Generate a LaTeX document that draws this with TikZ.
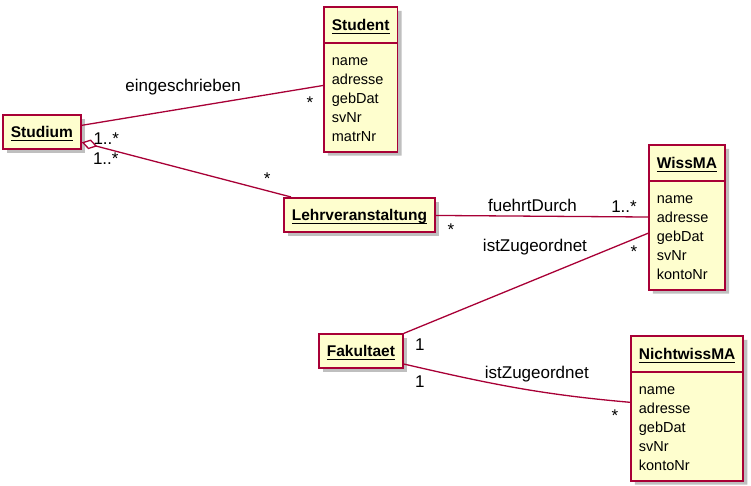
\documentclass[tikz,border=0pt]{standalone}
\usepackage{fontspec}
\setmainfont{Liberation Sans}
\usepackage{tikz}
\usetikzlibrary{shapes.multipart, arrows.meta, shadows}
\definecolor{umlred}{HTML}{A80036}
\definecolor{umlfill}{HTML}{FEFECE}
\newcommand{\clsname}[1]{%
    \setbox0\hbox{\fontsize{15.5}{18}\selectfont\bfseries #1}%
    \rlap{\rule[-3.2pt]{\wd0}{1.4pt}}\box0\rule[-7pt]{0pt}{26pt}%
}
\newcommand{\attrs}[1]{%
    \fontsize{14.5}{19}\selectfont\begin{tabular}{@{}l@{}}\rule{0pt}{17.5pt}#1\end{tabular}%
}
\tikzset{
    cls/.style={draw=umlred, fill=umlfill, line width=1.8pt, inner xsep=8pt, inner ysep=4pt,
        drop shadow={shadow xshift=4pt, shadow yshift=-4pt, opacity=0.25, fill=black}},
    clsattr/.style={cls, rectangle split, rectangle split parts=2,
        rectangle split part align={center,left}},
    assoc/.style={draw=umlred, line width=1.3pt},
    lbl/.style={font=\fontsize{17}{20}\selectfont, inner sep=0pt, anchor=base},
    aggr/.style={{Diamond[open,length=16pt,width=10pt]}-}
}

\begin{document}
\begin{tikzpicture}[x=1pt,y=1pt]
\useasboundingbox (0,0) rectangle (751,-486);
\node[cls, anchor=north west] (studium) at (2,-114) {\clsname{Studium}};
\node[clsattr, anchor=north west] (student) at (323,-6)
    {\clsname{Student} \nodepart{second} \attrs{name\\adresse\\gebDat\\svNr\\matrNr}};
\node[cls, anchor=north west] (lehr) at (283,-197) {\clsname{Lehrveranstaltung}};
\node[clsattr, anchor=north west] (wissma) at (648,-144)
    {\clsname{WissMA} \nodepart{second} \attrs{name\\adresse\\gebDat\\svNr\\kontoNr}};
\node[cls, anchor=north west] (fakultaet) at (318,-333) {\clsname{Fakultaet}};
\node[clsattr, anchor=north west] (nichtwissma) at (630,-335)
    {\clsname{NichtwissMA} \nodepart{second} \attrs{name\\adresse\\gebDat\\svNr\\kontoNr}};

\path[assoc]
(studium) edge node[lbl, pos=.42, yshift=17pt] {eingeschrieben}
    node[lbl, at end, xshift=-13pt, yshift=-22.5pt] {*} (student)
(studium) edge[aggr] node[lbl, at start, xshift=24.5pt, yshift=-2.5pt] {1..*}
    node[lbl, at start, xshift=24pt, yshift=-22.5pt] {1..*}
    node[lbl, at end, xshift=-24pt, yshift=12pt] {*} (lehr)
(lehr) edge node[lbl, pos=.455, yshift=4.5pt] {fuehrtDurch}
    node[lbl, at end, xshift=-24pt, yshift=4.5pt] {1..*}
    node[lbl, at start, xshift=15pt, yshift=-20.5pt] {*} (wissma)
(fakultaet) edge node[lbl, pos=.537, yshift=27.7pt] {istZugeordnet}
    node[lbl, at end, xshift=-14pt, yshift=-24.6pt] {*}
    node[lbl, at start, xshift=16pt, yshift=-17.3pt] {1} (wissma)
(fakultaet.-17) edge[out=-13, in=175] node[lbl, at start, xshift=133pt, yshift=-14pt] {istZugeordnet}
    node[lbl, at start, xshift=16pt, yshift=-23pt] {1}
    node[lbl, at end, xshift=-15pt, yshift=-19pt] {*} (nichtwissma.174);
\end{tikzpicture}
\end{document}
